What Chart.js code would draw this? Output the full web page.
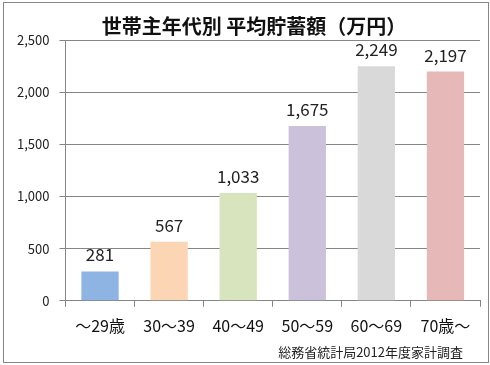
<!DOCTYPE html>
<html>
<head>
<meta charset="utf-8">
<script src="https://cdn.jsdelivr.net/npm/chart.js@4"></script>
<style>
    body { margin: 0; background: #fff; }
    #wrap { position: absolute; left: 0; top: 0; width: 490px; height: 365px; }
    #frame { position: absolute; left: 3px; top: 2px; width: 484px; height: 359px; border: 1px solid #868686; pointer-events: none; }
</style>
</head>
<body>
<div id="wrap">
    <canvas id="chart" width="490" height="365"></canvas>
    <div id="frame"></div>
</div>
<script>
var FONT = "'Noto Sans CJK JP', 'Noto Sans', sans-serif";

var ageGroups = ["～29歳", "30～39", "40～49", "50～59", "60～69", "70歳～"];
var savings = [281, 567, 1033, 1675, 2249, 2197];
var barColors = ["#8EB4E3", "#FCD5B5", "#D7E4BD", "#CCC1DA", "#D9D9D9", "#E6B9B8"];
var yTicks = [0, 500, 1000, 1500, 2000, 2500];

var titleText = "世帯主年代別 平均貯蓄額（万円）";
var sourceText = "総務省統計局2012年度家計調査";

function fmt(v) {
    return v.toLocaleString("en-US");
}

// value labels above each bar, plus title and source note
var extraText = {
    id: "extraText",
    afterDatasetsDraw(chart) {
        var ctx = chart.ctx;
        var meta = chart.getDatasetMeta(0);
        ctx.save();
        ctx.font = "17px " + FONT;
        ctx.fillStyle = "#222";
        ctx.textAlign = "center";
        ctx.textBaseline = "alphabetic";
        meta.data.forEach((bar, i) => {
            ctx.fillText(fmt(savings[i]), bar.x, bar.y - 10);
        });

        ctx.font = "bold 20px " + FONT;
        ctx.fillStyle = "#111";
        ctx.textBaseline = "middle";
        ctx.fillText(titleText, 254, 26);

        ctx.font = "13px " + FONT;
        ctx.fillStyle = "#222";
        ctx.textAlign = "right";
        ctx.fillText(sourceText, 463, 352);
        ctx.restore();
    }
};

new Chart(document.getElementById("chart").getContext("2d"), {
    type: "bar",
    data: {
        labels: ageGroups,
        datasets: [{
            data: savings,
            backgroundColor: barColors,
            categoryPercentage: 0.54,
            barPercentage: 1.0
        }]
    },
    options: {
        responsive: false,
        animation: false,
        layout: { padding: { left: 7, right: 10, top: 40, bottom: 19 } },
        plugins: {
            legend: { display: false },
            tooltip: { enabled: false }
        },
        scales: {
            x: {
                grid: {
                    display: true,
                    drawOnChartArea: false,
                    drawTicks: true,
                    tickLength: 6,
                    offset: true,
                    color: "#868686"
                },
                border: { color: "#868686" },
                ticks: {
                    color: "#111",
                    font: { family: FONT, size: 16 },
                    padding: 10,
                    maxRotation: 0,
                    autoSkip: false
                }
            },
            y: {
                min: 0,
                max: 2500,
                afterBuildTicks(axis) {
                    axis.ticks = yTicks.map(v => ({ value: v }));
                },
                grid: {
                    color: "#868686",
                    tickLength: 6
                },
                border: { color: "#868686" },
                ticks: {
                    color: "#222",
                    font: { family: FONT, size: 13 },
                    padding: 10,
                    callback: v => fmt(v)
                }
            }
        }
    },
    plugins: [extraText]
});
</script>
</body>
</html>
